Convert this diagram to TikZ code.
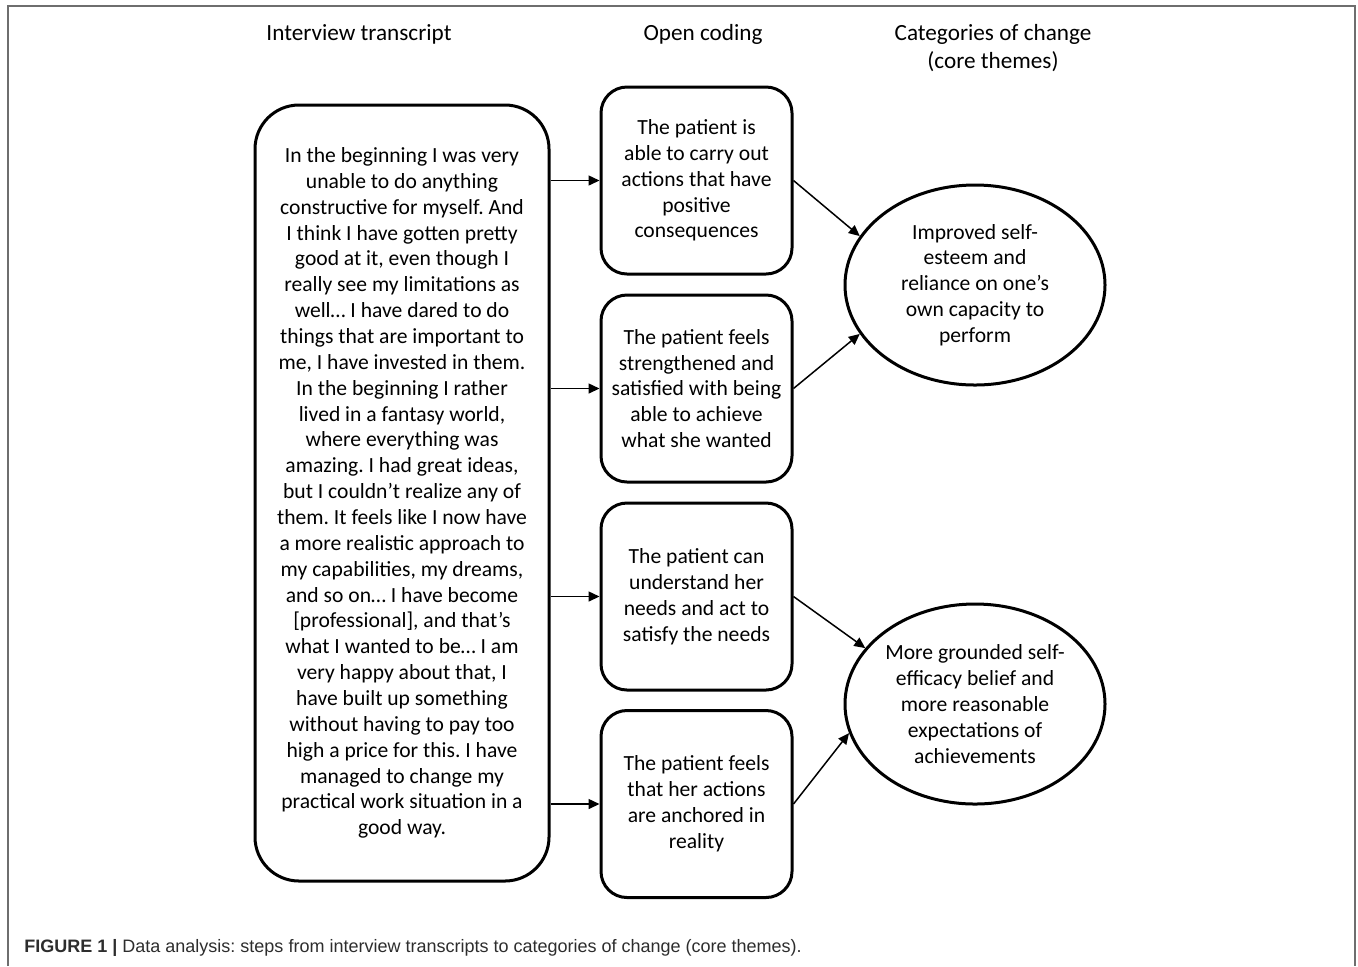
\documentclass[tikz,border=0pt]{standalone}
\usepackage{fontspec}
\setmainfont{Carlito}
\newfontfamily\capfont{Liberation Sans}
\usetikzlibrary{arrows.meta,shapes.geometric}
\definecolor{FrameGray}{RGB}{110,110,110}
\definecolor{CaptionInk}{RGB}{45,45,45}
\frenchspacing

\begin{document}
\begin{tikzpicture}[
  x=0.5pt, y=-0.5pt,
  every node/.style={font=\fontsize{10.8}{12.93}\selectfont, align=center, inner sep=0pt},
  heading/.style={font=\fontsize{11.6}{14}\selectfont},
  quotebox/.style={draw, line width=1.5pt, rounded corners=22pt,
    minimum width=147pt, minimum height=388pt},
  codebox/.style={draw, line width=1.5pt, rounded corners=13pt,
    minimum width=95.5pt, minimum height=93.5pt},
  themeoval/.style={draw, ellipse, line width=1.5pt,
    minimum width=130pt, minimum height=100pt},
  link/.style={line width=0.75pt, -{Triangle[length=5.5pt,width=5pt]}}
]
\useasboundingbox (0,0) rectangle (1358,966);
\draw[FrameGray, line width=0.75pt] (8,966) -- (8,6) -- (1355,6) -- (1355,966);

% column headings
\node[heading] (headTranscript) at (359,34) {Interview transcript};
\node[heading] (headCoding) at (703,34) {Open coding};
\node[heading] (headThemes) at (993,48) {Categories of change\\(core themes)};

% interview transcript
\node[quotebox] (transcript) at (402,493) {%
  In the beginning I was very\\
  unable to do anything\\
  constructive for myself. And\\
  I think I have gotten pretty\\
  good at it, even though I\\
  really see my limitations as\\
  well… I have dared to do\\
  things that are important to\\
  me, I have invested in them.\\
  In the beginning I rather\\
  lived in a fantasy world,\\
  where everything was\\
  amazing. I had great ideas,\\
  but I couldn’t realize any of\\
  them. It feels like I now have\\
  a more realistic approach to\\
  my capabilities, my dreams,\\
  and so on… I have become\\
  {[professional]}, and that’s\\
  what I wanted to be… I am\\
  very happy about that, I\\
  have built up something\\
  without having to pay too\\
  high a price for this. I have\\
  managed to change my\\
  practical work situation in a\\
  good way.};

% open coding
\node[codebox] (codeActions) at (696.5,180.5) {The patient is\\able to carry out\\actions that have\\positive\\consequences};
\node[codebox] (codeStrength) at (696.5,388.5) {The patient feels\\strengthened and\\satisfied with being\\able to achieve\\what she wanted};
\node[codebox] (codeNeeds) at (696.5,596.5) {The patient can\\understand her\\needs and act to\\satisfy the needs};
\node[codebox] (codeReality) at (696.5,804) {The patient feels\\that her actions\\are anchored in\\reality};

% core themes
\node[themeoval] (themeEsteem) at (975,285) {Improved self-\\esteem and\\reliance on one’s\\own capacity to\\perform};
\node[themeoval] (themeEfficacy) at (975,704) {More grounded self-\\efficacy belief and\\more reasonable\\expectations of\\achievements};

% connectors
\foreach \code in {codeActions,codeStrength,codeNeeds,codeReality}
  \draw[link] (transcript.east |- \code.west) -- (\code.west);
\draw[link] (codeActions.east) -- (themeEsteem.157);
\draw[link] (codeStrength.east) -- (themeEsteem.203);
\draw[link] (codeNeeds.east) -- (themeEfficacy.153);
\draw[link] (codeReality.east) -- (themeEfficacy.193);

% caption
\node[anchor=base west, font=\capfont\fontsize{9}{11}\selectfont, text=CaptionInk]
  (caption) at (24,952) {\textbf{FIGURE 1 |} Data analysis: steps from interview transcripts to categories of change (core themes).};
\end{tikzpicture}
\end{document}
